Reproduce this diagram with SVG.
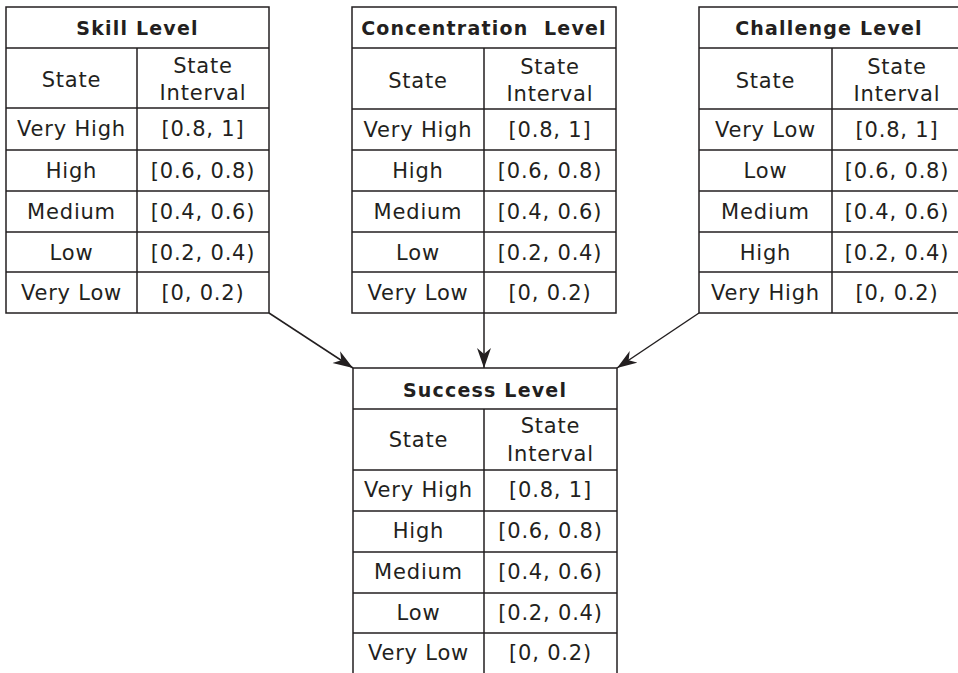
<svg xmlns="http://www.w3.org/2000/svg" width="958" height="673" viewBox="0 0 958 673">
<style>
.bg{fill:#fff}
.box{fill:none;stroke:#231f20;stroke-width:1.5}
.ln{stroke:#231f20;stroke-width:1.5}
.t{font-family:"DejaVu Sans",Verdana,sans-serif;font-size:21px;letter-spacing:0.8px;fill:#231f20;text-anchor:middle}
.h{font-family:"DejaVu Sans",Verdana,sans-serif;font-size:19px;font-weight:bold;letter-spacing:1.2px;fill:#231f20;text-anchor:middle;white-space:pre}
.conn{stroke:#231f20;stroke-width:1.5;fill:none;marker-end:url(#arr)}
</style>
<defs>
<marker id="arr" markerUnits="userSpaceOnUse" markerWidth="22" markerHeight="16" refX="20" refY="7" orient="auto">
<path d="M0,0 L20,7 L0,14 L6,7 Z" fill="#231f20"/>
</marker>
</defs>
<rect class="bg" x="0" y="0" width="958" height="673"/>

<g id="skill">
<rect class="box" x="6" y="7" width="263" height="306"/>
<path class="ln" d="M6,48H269M6,108H269M6,150H269M6,191H269M6,232H269M6,272H269M137,48V313"/>
<text class="h" x="137.5" y="35">Skill Level</text>
<text class="t" x="71.5" y="87">State</text>
<text class="t" x="203" y="73">State</text>
<text class="t" x="203" y="100">Interval</text>
<text class="t" x="71.5" y="136">Very High</text><text class="t" x="203" y="136">[0.8, 1]</text>
<text class="t" x="71.5" y="178">High</text><text class="t" x="203" y="178">[0.6, 0.8)</text>
<text class="t" x="71.5" y="219">Medium</text><text class="t" x="203" y="219">[0.4, 0.6)</text>
<text class="t" x="71.5" y="260">Low</text><text class="t" x="203" y="260">[0.2, 0.4)</text>
<text class="t" x="71.5" y="300">Very Low</text><text class="t" x="203" y="300">[0, 0.2)</text>
</g>

<g id="concentration">
<rect class="box" x="352" y="7" width="264" height="306"/>
<path class="ln" d="M352,48H616M352,109H616M352,150H616M352,191H616M352,232H616M352,272H616M484,48V313"/>
<text class="h" x="484" y="35" xml:space="preserve">Concentration  Level</text>
<text class="t" x="418" y="88">State</text>
<text class="t" x="550" y="74">State</text>
<text class="t" x="550" y="101">Interval</text>
<text class="t" x="418" y="137">Very High</text><text class="t" x="550" y="137">[0.8, 1]</text>
<text class="t" x="418" y="178">High</text><text class="t" x="550" y="178">[0.6, 0.8)</text>
<text class="t" x="418" y="219">Medium</text><text class="t" x="550" y="219">[0.4, 0.6)</text>
<text class="t" x="418" y="260">Low</text><text class="t" x="550" y="260">[0.2, 0.4)</text>
<text class="t" x="418" y="300">Very Low</text><text class="t" x="550" y="300">[0, 0.2)</text>
</g>

<g id="challenge">
<rect class="box" x="699" y="7" width="263" height="306"/>
<path class="ln" d="M699,48H962M699,109H962M699,150H962M699,191H962M699,232H962M699,272H962M832,48V313"/>
<text class="h" x="829" y="35">Challenge Level</text>
<text class="t" x="765.5" y="88">State</text>
<text class="t" x="897" y="74">State</text>
<text class="t" x="897" y="101">Interval</text>
<text class="t" x="765.5" y="137">Very Low</text><text class="t" x="897" y="137">[0.8, 1]</text>
<text class="t" x="765.5" y="178">Low</text><text class="t" x="897" y="178">[0.6, 0.8)</text>
<text class="t" x="765.5" y="219">Medium</text><text class="t" x="897" y="219">[0.4, 0.6)</text>
<text class="t" x="765.5" y="260">High</text><text class="t" x="897" y="260">[0.2, 0.4)</text>
<text class="t" x="765.5" y="300">Very High</text><text class="t" x="897" y="300">[0, 0.2)</text>
</g>

<g id="success">
<rect class="box" x="353" y="368" width="264" height="306"/>
<path class="ln" d="M353,409H617M353,470H617M353,511H617M353,552H617M353,593H617M353,633H617M484,409V674"/>
<text class="h" x="485" y="397">Success Level</text>
<text class="t" x="418.5" y="447">State</text>
<text class="t" x="550.5" y="433">State</text>
<text class="t" x="550.5" y="461">Interval</text>
<text class="t" x="418.5" y="497">Very High</text><text class="t" x="550.5" y="497">[0.8, 1]</text>
<text class="t" x="418.5" y="538">High</text><text class="t" x="550.5" y="538">[0.6, 0.8)</text>
<text class="t" x="418.5" y="579">Medium</text><text class="t" x="550.5" y="579">[0.4, 0.6)</text>
<text class="t" x="418.5" y="620">Low</text><text class="t" x="550.5" y="620">[0.2, 0.4)</text>
<text class="t" x="418.5" y="660">Very Low</text><text class="t" x="550.5" y="660">[0, 0.2)</text>
</g>

<g id="connectors">
<path class="conn" d="M269,313L353,368"/>
<path class="conn" d="M484,313L484,368"/>
<path class="conn" d="M699,313L617,368"/>
</g>
</svg>
